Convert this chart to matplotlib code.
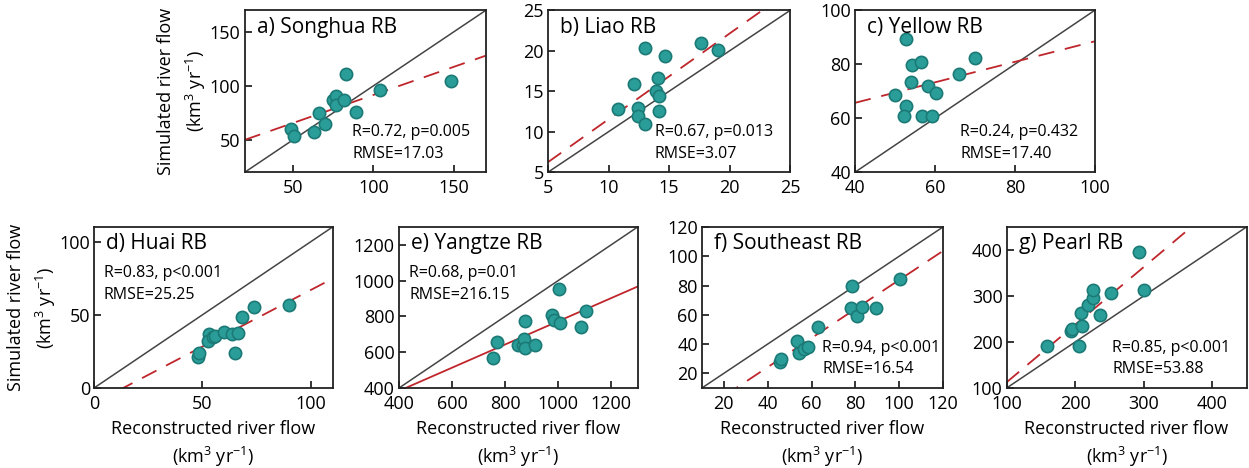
import numpy as np
import matplotlib
matplotlib.use("Agg")
from matplotlib import pyplot as plt

# ---- data ----
songhua_x = [49, 50.5, 63, 66, 70, 75, 77, 77, 82, 83, 89, 104, 148]
songhua_y = [60, 54, 57, 75, 65, 87, 91, 82, 87, 111, 75.5, 96, 104.5]

liao_x = [10.8, 12.1, 12.4, 12.4, 13.0, 13.0, 13.9, 14.1, 14.2, 14.2, 14.7, 17.6, 19.0]
liao_y = [12.8, 15.9, 12.9, 11.9, 20.4, 11.0, 15.0, 16.6, 14.4, 12.55, 19.3, 21.0, 20.1]

yellow_x = [50, 52.7, 52.7, 52.3, 54, 54.3, 56.5, 56.7, 58.2, 59.3, 60.4, 66.1, 70]
yellow_y = [68.6, 89.4, 64.5, 60.8, 73.3, 79.6, 80.7, 60.8, 71.9, 60.8, 69.4, 76.4, 82.2]

huai_x = [47.8, 48.5, 52.8, 52.7, 54.7, 55.9, 60, 63.8, 66.6, 65, 68.1, 73.7, 89.8]
huai_y = [21.1, 23.7, 36.8, 32.2, 34.5, 35.6, 38.4, 36.8, 37.9, 24.1, 48.3, 55.2, 56.8]

yangtze_x = [754, 771, 850, 866, 872, 875, 875, 912, 977, 985, 1002, 1006, 1087, 1106]
yangtze_y = [567, 657, 638, 638, 672, 623, 772, 638, 809, 781, 954, 763, 739, 832]

southeast_x = [45.5, 46.2, 53.3, 54.4, 56.4, 58.2, 62.9, 78.3, 78.0, 80.9, 82.9, 89.4, 100.3]
southeast_y = [28.0, 29.6, 42.4, 34.2, 36.5, 38.3, 51.5, 79.9, 64.6, 58.9, 65.3, 64.6, 84.5]

pearl_x = [159.5, 194, 195, 206, 209.8, 208.8, 218.5, 225.9, 225.9, 236.6, 252.2, 300, 293.7]
pearl_y = [191.9, 222.8, 228.7, 190.4, 233.8, 264, 280, 294.9, 313, 259.6, 307.4, 313.2, 396.3]

titles = ["a) Songhua RB", "b) Liao RB", "c) Yellow RB", "d) Huai RB",
          "e) Yangtze RB", "f) Southeast RB", "g) Pearl RB"]
stats = ["R=0.72, p=0.005\nRMSE=17.03", "R=0.67, p=0.013\nRMSE=3.07",
         "R=0.24, p=0.432\nRMSE=17.40", "R=0.83, p<0.001\nRMSE=25.25",
         "R=0.68, p=0.01\nRMSE=216.15", "R=0.94, p<0.001\nRMSE=16.54",
         "R=0.85, p<0.001\nRMSE=53.88"]
# fitted regression lines (intercept, slope) as drawn in the reference
fits = [(39.6, 0.52), (0.94, 1.06), (50.5, 0.38), (-10.4, 0.774),
        (124.6, 0.648), (-15.5, 0.993), (-12.7, 1.252)]
fit_dashed = [True, True, True, True, False, True, True]
limits = [(20, 170), (5, 25), (40, 100), (0, 110), (400, 1300), (10, 120), (100, 450)]
xticks = [[50, 100, 150], [5, 10, 15, 20, 25], [40, 60, 80, 100], [0, 50, 100],
          [400, 600, 800, 1000, 1200], [20, 40, 60, 80, 100, 120], [100, 200, 300, 400]]
yticks = [[50, 100, 150], [5, 10, 15, 20, 25], [40, 60, 80, 100], [0, 50, 100],
          [400, 600, 800, 1000, 1200], [20, 40, 60, 80, 100, 120], [100, 200, 300, 400]]

xs = [songhua_x, liao_x, yellow_x, huai_x, yangtze_x, southeast_x, pearl_x]
ys = [songhua_y, liao_y, yellow_y, huai_y, yangtze_y, southeast_y, pearl_y]

# ---- layout (figure fractions) ----
boxes = [(0.196, 0.632, 0.193, 0.346), (0.4387, 0.632, 0.194, 0.346),
         (0.6845, 0.632, 0.192, 0.346), (0.0753, 0.171, 0.191, 0.344),
         (0.3195, 0.171, 0.191, 0.344), (0.562, 0.171, 0.193, 0.344),
         (0.806, 0.171, 0.192, 0.344)]
stat_pos = [(0.445, 0.18), (0.44, 0.18), (0.44, 0.18), (0.04, 0.646),
            (0.042, 0.646), (0.50, 0.183), (0.44, 0.183)]

plt.rcParams['font.family'] = ['Open Sans', 'DejaVu Sans']
plt.rcParams['mathtext.fontset'] = 'custom'
plt.rcParams['mathtext.rm'] = 'Open Sans'
plt.rcParams['mathtext.it'] = 'Open Sans:italic'

teal = '#2a9d99'
teal_edge = '#1b7a76'
red = '#bf262c'
grey = '#444444'
unit = r'(km$^3$ yr$^{-1}$)'

fig = plt.figure(figsize=(12.49, 4.68), dpi=100)

for i in range(7):
    ax = fig.add_axes(boxes[i])
    lo, hi = limits[i]
    ax.plot([lo, hi], [lo, hi], color=grey, lw=1.1, zorder=1)
    b0, b1 = fits[i]
    line_x = np.array([lo, hi])
    if fit_dashed[i]:
        ax.plot(line_x, b0 + b1 * line_x, color=red, lw=1.3,
                ls=(0, (9, 6)), zorder=2)
    else:
        ax.plot(line_x, b0 + b1 * line_x, color=red, lw=1.3, zorder=2)
    ax.scatter(xs[i], ys[i], s=78, color=teal, edgecolor=teal_edge,
               linewidth=1.2, zorder=3)
    ax.set_xlim(lo, hi)
    ax.set_ylim(lo, hi)
    ax.set_xticks(xticks[i])
    ax.set_yticks(yticks[i])
    ax.tick_params(axis='both', direction='in', length=5, width=1.1,
                   labelsize=13)
    ax.tick_params(axis='x', pad=5)
    ax.tick_params(axis='y', pad=3)
    for sp in ax.spines.values():
        sp.set_linewidth(1.3)
        sp.set_color('#222222')
    ax.text(0.05, 0.96, titles[i], transform=ax.transAxes, fontsize=15,
            va='top', ha='left')
    ax.text(stat_pos[i][0], stat_pos[i][1], stats[i], transform=ax.transAxes,
            fontsize=11.5, va='center', ha='left', linespacing=1.45)
    if i in (0, 3):
        ax.set_ylabel('Simulated river flow\n' + unit, fontsize=13,
                      linespacing=1.5, labelpad=1)
    if i >= 3:
        ax.set_xlabel('Reconstructed river flow\n' + unit, fontsize=13,
                      linespacing=1.4, labelpad=5)

fig.savefig('out.png', dpi=100)
